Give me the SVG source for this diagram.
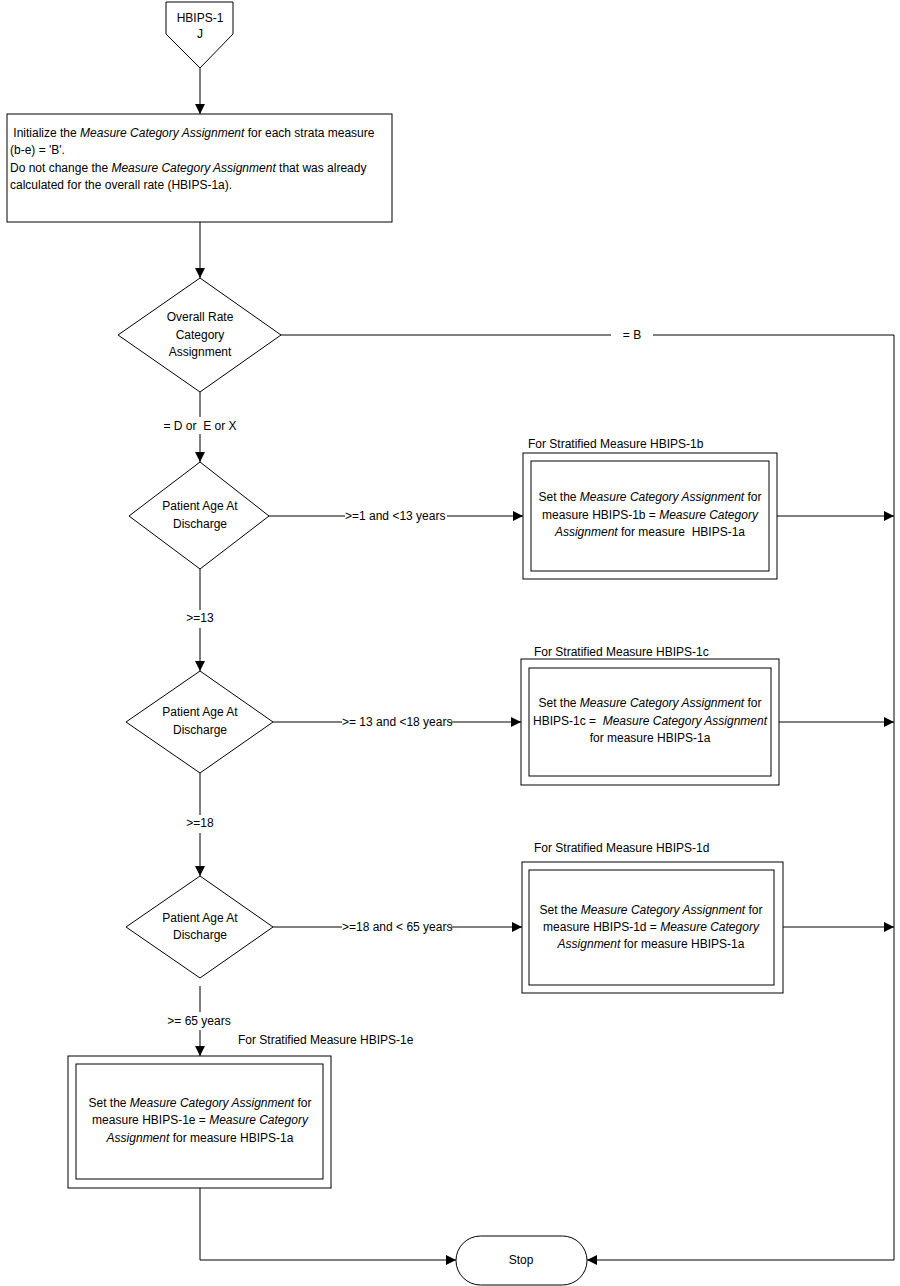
<svg xmlns="http://www.w3.org/2000/svg" width="900" height="1286" viewBox="0 0 900 1286">
<style>
  .shape { fill: #ffffff; stroke: #000000; stroke-width: 1; }
  .line { fill: none; stroke: #000000; stroke-width: 1; }
  text { font-family: "Liberation Sans", Arial, sans-serif; font-size: 12px; fill: #000000; }
  .c { text-anchor: middle; }
  .i { font-style: italic; }
</style>
<defs>
  <marker id="arrow" viewBox="0 0 10 10" refX="10" refY="5" markerWidth="10" markerHeight="10" markerUnits="userSpaceOnUse" orient="auto">
    <path d="M0,0 L10,5 L0,10 Z" fill="#000000"/>
  </marker>
</defs>
<rect width="900" height="1286" fill="#ffffff"/>

<g id="connectors">
  <line class="line" x1="200" y1="68" x2="200" y2="114" marker-end="url(#arrow)"/>
  <line class="line" x1="200" y1="222" x2="200" y2="278" marker-end="url(#arrow)"/>
  <line class="line" x1="200" y1="392" x2="200" y2="417"/>
  <line class="line" x1="200" y1="434" x2="200" y2="462" marker-end="url(#arrow)"/>
  <text class="c" x="200" y="430" xml:space="preserve">= D or  E or X</text>
  <polyline class="line" points="281,335 611,335"/>
  <polyline class="line" points="653,335 894,335 894,1260 587,1260" marker-end="url(#arrow)"/>
  <text class="c" x="632" y="339">= B</text>
  <line class="line" x1="269" y1="516" x2="345" y2="516"/>
  <line class="line" x1="447" y1="516" x2="523" y2="516" marker-end="url(#arrow)"/>
  <text x="345" y="520">&gt;=1 and &lt;13 years</text>
  <line class="line" x1="777" y1="516" x2="894" y2="516" marker-end="url(#arrow)"/>
  <line class="line" x1="200" y1="569" x2="200" y2="610"/>
  <line class="line" x1="200" y1="628" x2="200" y2="671" marker-end="url(#arrow)"/>
  <text class="c" x="200" y="622">&gt;=13</text>
  <line class="line" x1="273" y1="722" x2="342" y2="722"/>
  <line class="line" x1="451" y1="722" x2="521" y2="722" marker-end="url(#arrow)"/>
  <text x="342" y="726">&gt;= 13 and &lt;18 years</text>
  <line class="line" x1="779" y1="722" x2="894" y2="722" marker-end="url(#arrow)"/>
  <line class="line" x1="200" y1="773" x2="200" y2="815"/>
  <line class="line" x1="200" y1="833" x2="200" y2="876" marker-end="url(#arrow)"/>
  <text class="c" x="200" y="827">&gt;=18</text>
  <line class="line" x1="273" y1="927" x2="342" y2="927"/>
  <line class="line" x1="451" y1="927" x2="522" y2="927" marker-end="url(#arrow)"/>
  <text x="342" y="931">&gt;=18 and &lt; 65 years</text>
  <line class="line" x1="783" y1="927" x2="894" y2="927" marker-end="url(#arrow)"/>
  <line class="line" x1="200" y1="986" x2="200" y2="1012"/>
  <line class="line" x1="200" y1="1030" x2="200" y2="1056" marker-end="url(#arrow)"/>
  <text class="c" x="199" y="1025">&gt;= 65 years</text>
  <polyline class="line" points="200,1188 200,1260 456,1260" marker-end="url(#arrow)"/>
</g>

<g id="start">
  <polygon class="shape" points="166,2 233,2 233,34 200,68 166,34"/>
  <text class="c" x="200" y="22">HBIPS-1</text>
  <text class="c" x="200" y="38">J</text>
</g>

<g id="init">
  <rect class="shape" x="7" y="114" width="385" height="108"/>
  <text x="10" y="137" xml:space="preserve"> Initialize the <tspan class="i">Measure Category Assignment</tspan> for each strata measure</text>
  <text x="10" y="154">(b-e) = 'B'.</text>
  <text x="10" y="172">Do not change the <tspan class="i">Measure Category Assignment</tspan> that was already</text>
  <text x="10" y="189">calculated for the overall rate (HBIPS-1a).</text>
</g>

<g id="decision-overall">
  <polygon class="shape" points="200,278 281,335 200,392 118,335"/>
  <text class="c" x="200" y="321">Overall Rate</text>
  <text class="c" x="200" y="339">Category</text>
  <text class="c" x="200" y="356">Assignment</text>
</g>

<g id="decision-age1">
  <polygon class="shape" points="200,462 269,516 200,569 129,516"/>
  <text class="c" x="200" y="510">Patient Age At</text>
  <text class="c" x="200" y="528">Discharge</text>
</g>

<g id="box-1b">
  <text x="528" y="448">For Stratified Measure HBIPS-1b</text>
  <rect class="shape" x="523" y="453" width="254" height="126"/>
  <rect class="shape" x="531" y="461" width="238" height="110"/>
  <text class="c" x="650" y="501">Set the <tspan class="i">Measure Category Assignment</tspan> for</text>
  <text class="c" x="650" y="519">measure HBIPS-1b = <tspan class="i">Measure Category</tspan></text>
  <text class="c" x="650" y="536" xml:space="preserve"><tspan class="i">Assignment</tspan> for measure  HBIPS-1a</text>
</g>

<g id="decision-age2">
  <polygon class="shape" points="200,671 273,722 200,773 126,722"/>
  <text class="c" x="200" y="716">Patient Age At</text>
  <text class="c" x="200" y="734">Discharge</text>
</g>

<g id="box-1c">
  <text x="534" y="656">For Stratified Measure HBIPS-1c</text>
  <rect class="shape" x="521" y="659" width="258" height="126"/>
  <rect class="shape" x="529" y="668" width="242" height="108"/>
  <text class="c" x="650" y="707">Set the <tspan class="i">Measure Category Assignment</tspan> for</text>
  <text class="c" x="650" y="725" xml:space="preserve">HBIPS-1c =  <tspan class="i">Measure Category Assignment</tspan></text>
  <text class="c" x="650" y="742">for measure HBIPS-1a</text>
</g>

<g id="decision-age3">
  <polygon class="shape" points="200,876 273,927 200,978 126,927"/>
  <text class="c" x="200" y="922">Patient Age At</text>
  <text class="c" x="200" y="939">Discharge</text>
</g>

<g id="box-1d">
  <text x="534" y="852">For Stratified Measure HBIPS-1d</text>
  <rect class="shape" x="522" y="862" width="261" height="131"/>
  <rect class="shape" x="529" y="870" width="245" height="115"/>
  <text class="c" x="651" y="914">Set the <tspan class="i">Measure Category Assignment</tspan> for</text>
  <text class="c" x="651" y="931">measure HBIPS-1d = <tspan class="i">Measure Category</tspan></text>
  <text class="c" x="651" y="948"><tspan class="i">Assignment</tspan> for measure HBIPS-1a</text>
</g>

<g id="box-1e">
  <text x="238" y="1044">For Stratified Measure HBIPS-1e</text>
  <rect class="shape" x="68" y="1056" width="263" height="132"/>
  <rect class="shape" x="76" y="1064" width="247" height="115"/>
  <text class="c" x="200" y="1107">Set the <tspan class="i">Measure Category Assignment</tspan> for</text>
  <text class="c" x="200" y="1124">measure HBIPS-1e = <tspan class="i">Measure Category</tspan></text>
  <text class="c" x="200" y="1142"><tspan class="i">Assignment</tspan> for measure HBIPS-1a</text>
</g>

<g id="stop">
  <rect class="shape" x="456" y="1236" width="131" height="49" rx="24.5" ry="24.5"/>
  <text class="c" x="521" y="1264">Stop</text>
</g>
</svg>
